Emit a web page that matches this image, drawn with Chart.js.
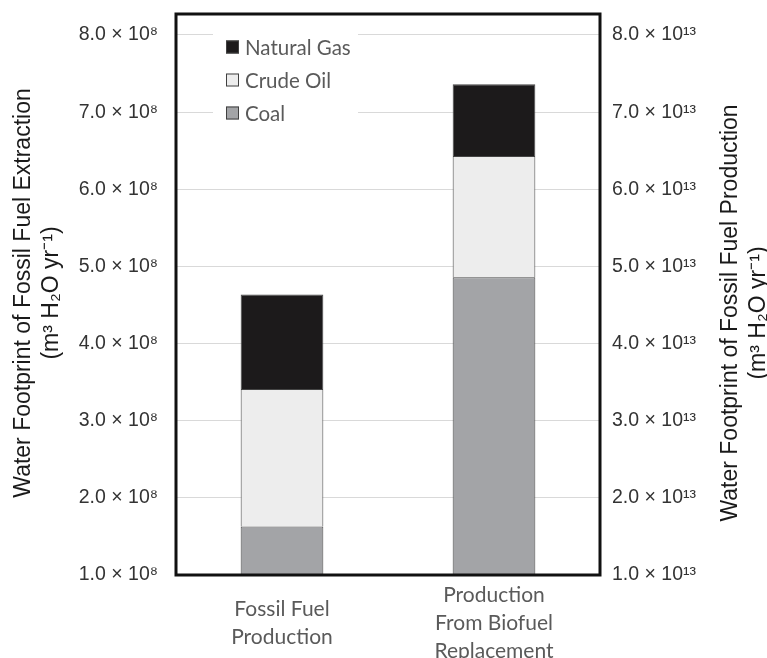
<!DOCTYPE html>
<html>
<head>
<meta charset="utf-8">
<script src="https://cdn.jsdelivr.net/npm/chart.js@4"></script>
<style>
    body { margin: 0; background: #fff; }
    #wrap { width: 767px; height: 658px; position: relative; }
</style>
</head>
<body>
<div id="wrap"><canvas id="footprintChart"></canvas></div>
<script>
// Values in units of 1e8 m3/yr (left axis); the right axis reads the same bars in 1e13
const categories = [['Fossil Fuel', 'Production'], ['Production', 'From Biofuel', 'Replacement']];
const coal = [1.63, 4.86];
const crudeOil = [1.78, 1.57];
const naturalGas = [1.225, 0.93];
const tickValues = [1, 2, 3, 4, 5, 6, 7, 8];
const leftExp = '⁸';
const rightExp = '¹³';
const leftTitle = ['Water Footprint of Fossil Fuel Extraction', '(m³ H₂O yr⁻¹)'];
const rightTitle = ['Water Footprint of Fossil Fuel Production', '(m³ H₂O yr⁻¹)'];

const axisFont = { family: '"Liberation Sans", Arial, sans-serif', size: 19.5 };
const catFont = { family: 'Lato, "Open Sans", sans-serif', size: 21, lineHeight: 1.34 };

// frame, legend box and rotated axis titles
const decorations = {
    id: 'decorations',
    afterDatasetsDraw(chart) {
        const ctx = chart.ctx;
        const a = chart.chartArea;
        ctx.save();
        // legend inside the plot
        ctx.fillStyle = '#fff';
        ctx.fillRect(a.left + 37, a.top + 10, 145, 115);
        const items = chart.data.datasets.slice().reverse();
        ctx.font = '20.5px Lato, "Open Sans", sans-serif';
        ctx.textBaseline = 'middle';
        items.forEach((ds, i) => {
            const y = a.top + 33 + i * 33;
            ctx.fillStyle = ds.backgroundColor;
            ctx.fillRect(a.left + 50, y - 6.5, 13, 13);
            ctx.strokeStyle = '#404040';
            ctx.lineWidth = 1;
            ctx.strokeRect(a.left + 50.5, y - 6, 12, 12);
            ctx.fillStyle = '#5a5a5a';
            ctx.fillText(ds.label, a.left + 69, y + 1);
        });
        // heavy frame
        ctx.strokeStyle = '#111';
        ctx.lineWidth = 3;
        ctx.strokeRect(a.left, a.top, a.right - a.left, a.bottom - a.top);
        // axis titles, both reading bottom to top
        ctx.fillStyle = '#1a1a1a';
        ctx.font = '23px "Liberation Sans", Arial, sans-serif';
        ctx.textAlign = 'center';
        ctx.textBaseline = 'middle';
        const drawTitle = (lines, x, y) => {
            ctx.save();
            ctx.translate(x, y);
            ctx.rotate(-Math.PI / 2);
            lines.forEach((t, i) => ctx.fillText(t, 0, i * 28));
            ctx.restore();
        };
        drawTitle(leftTitle, 24, 293);
        drawTitle(rightTitle, 731, 313);
        ctx.restore();
    }
};

// keep the plot top/bottom where the frame is, not padded for tick labels
const noVPad = scale => { scale.paddingTop = 0; scale.paddingBottom = 0; };

const ctx = document.getElementById('footprintChart').getContext('2d');
new Chart(ctx, {
    type: 'bar',
    data: {
        labels: categories,
        datasets: [
            { label: 'Coal', data: coal, backgroundColor: '#a3a4a7' },
            { label: 'Crude Oil', data: crudeOil, backgroundColor: '#ededed' },
            { label: 'Natural Gas', data: naturalGas, backgroundColor: '#1c1a1b' }
        ].map(ds => Object.assign(ds, {
            borderColor: '#444',
            borderWidth: 1,
            barPercentage: 0.39,
            categoryPercentage: 1
        }))
    },
    options: {
        responsive: true,
        maintainAspectRatio: false,
        animation: false,
        layout: { padding: { top: 14 } },
        plugins: {
            legend: { display: false },
            tooltip: { enabled: false }
        },
        scales: {
            x: {
                stacked: true,
                grid: { display: false },
                border: { display: false },
                ticks: {
                    font: catFont,
                    color: '#5a5a5a',
                    maxRotation: 0,
                    crossAlign: 'center',
                    padding: 12
                },
                afterFit(scale) { scale.height = 83; }
            },
            y: {
                stacked: true,
                min: 1,
                max: 8.272,
                afterBuildTicks(scale) { scale.ticks = tickValues.map(v => ({ value: v })); },
                grid: { color: '#d9d9d9', lineWidth: 1, drawTicks: false },
                border: { display: false },
                ticks: {
                    font: axisFont,
                    color: '#333',
                    padding: 18,
                    callback: v => v.toFixed(1) + ' × 10' + leftExp
                },
                afterFit(scale) { scale.width = 176; noVPad(scale); }
            },
            y2: {
                position: 'right',
                min: 1,
                max: 8.272,
                afterBuildTicks(scale) { scale.ticks = tickValues.map(v => ({ value: v })); },
                grid: { display: false, drawTicks: false },
                border: { display: false },
                ticks: {
                    font: axisFont,
                    color: '#333',
                    padding: 12,
                    callback: v => v.toFixed(1) + ' × 10' + rightExp
                },
                afterFit(scale) { scale.width = 167; noVPad(scale); }
            }
        }
    },
    plugins: [decorations]
});
</script>
</body>
</html>
